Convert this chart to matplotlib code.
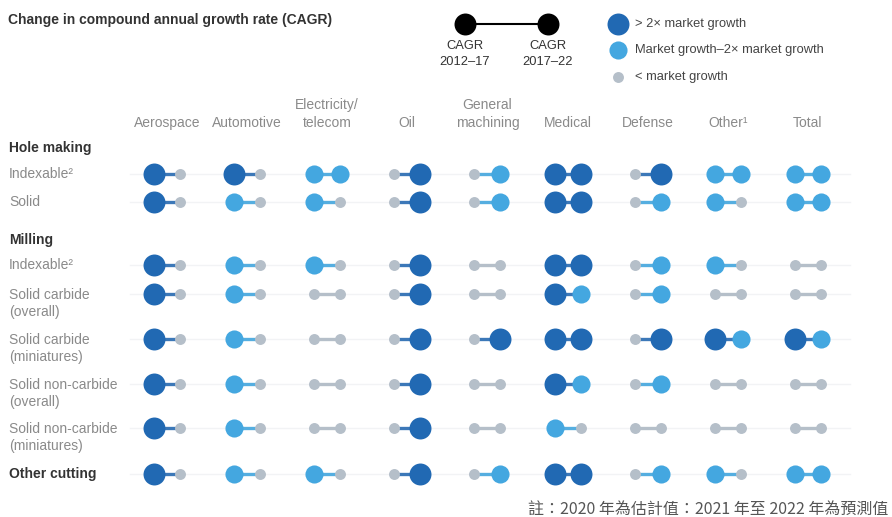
import matplotlib
matplotlib.use("Agg")
import matplotlib.pyplot as plt

plt.rcParams['font.family'] = ['Liberation Sans', 'DejaVu Sans']

# ---------------- data ----------------
industries = ["Aerospace", "Automotive", "Electricity/\ntelecom", "Oil",
              "General\nmachining", "Medical", "Defense", "Other\u00b9", "Total"]
row_labels = ["Indexable\u00b2", "Solid", "Indexable\u00b2", "Solid carbide\n(overall)",
              "Solid carbide\n(miniatures)", "Solid non-carbide\n(overall)",
              "Solid non-carbide\n(miniatures)", "Other cutting"]
section_labels = ["Hole making", "Milling"]
# growth class: 0 = < market growth, 1 = market growth-2x, 2 = > 2x market growth
cagr_2012_17 = [
    [2, 2, 1, 0, 0, 2, 0, 1, 1],
    [2, 1, 1, 0, 0, 2, 0, 1, 1],
    [2, 1, 1, 0, 0, 2, 0, 1, 0],
    [2, 1, 0, 0, 0, 2, 0, 0, 0],
    [2, 1, 0, 0, 0, 2, 0, 2, 2],
    [2, 1, 0, 0, 0, 2, 0, 0, 0],
    [2, 1, 0, 0, 0, 1, 0, 0, 0],
    [2, 1, 1, 0, 0, 2, 0, 1, 1],
]
cagr_2017_22 = [
    [0, 0, 1, 2, 1, 2, 2, 1, 1],
    [0, 0, 0, 2, 1, 2, 1, 0, 1],
    [0, 0, 0, 2, 0, 2, 1, 0, 0],
    [0, 0, 0, 2, 0, 1, 1, 0, 0],
    [0, 0, 0, 2, 2, 2, 2, 1, 1],
    [0, 0, 0, 2, 0, 1, 1, 0, 0],
    [0, 0, 0, 2, 0, 0, 0, 0, 0],
    [0, 0, 0, 2, 1, 2, 1, 0, 1],
]
legend_labels = ["> 2\u00d7 market growth", "Market growth\u20132\u00d7 market growth", "< market growth"]
period_labels = ["CAGR\n2012\u201317", "CAGR\n2017\u201322"]
title = "Change in compound annual growth rate (CAGR)"
footnote = "註：2020 年為估計值：2021 年至 2022 年為預測值"

# ---------------- style / layout ----------------
colors = {0: "#b5bfc9", 1: "#44a7e0", 2: "#2169b3"}
sizes = {0: 62, 1: 170, 2: 250}
line_colors = {0: "#b5bfc9", 1: "#55aee0", 2: "#3c78b8"}

W, H = 892, 517
fig = plt.figure(figsize=(W / 100, H / 100), dpi=100)
ax = fig.add_axes([0, 0, 1, 1])
ax.set_xlim(0, W)
ax.set_ylim(H, 0)
ax.axis("off")

col_x0, col_dx = 167, 80.1
half = 13
row_y = [174, 202, 265, 294, 339, 384, 428, 474]
section_y = [148, 240]

# faint row guides
for y in row_y:
    ax.plot([130, 850], [y, y], color="#f2f3f5", lw=1.0, zorder=0)

# column labels
for i, name in enumerate(industries):
    ax.text(col_x0 + i * col_dx, 130, name, ha="center", va="bottom",
            fontsize=10, color="#8a8a8a", linespacing=1.4)

# section headers
for lab, y in zip(section_labels, section_y):
    ax.text(9, y, lab, ha="left", va="center", fontsize=10,
            fontweight="bold", color="#333333")

# row labels
for r, lab in enumerate(row_labels):
    y = row_y[r]
    if "\n" in lab:
        ax.text(9, y - 6, lab, ha="left", va="top", fontsize=10,
                color="#8a8a8a", linespacing=1.3)
    elif lab == "Other cutting":
        ax.text(9, y, lab, ha="left", va="center", fontsize=10,
                fontweight="bold", color="#333333")
    else:
        ax.text(9, y, lab, ha="left", va="center", fontsize=10, color="#8a8a8a")

# dumbbells
for r in range(len(row_y)):
    y = row_y[r]
    for i in range(len(industries)):
        a, b = cagr_2012_17[r][i], cagr_2017_22[r][i]
        cx = col_x0 + i * col_dx
        xl, xr = cx - half, cx + half
        lc = line_colors[max(a, b)]
        ax.plot([xl, xr], [y, y], color=lc, lw=2.4, zorder=1, solid_capstyle="butt")
        ax.scatter([xl], [y], s=sizes[a], color=colors[a], zorder=2, linewidths=0)
        ax.scatter([xr], [y], s=sizes[b], color=colors[b], zorder=2, linewidths=0)

# title
ax.text(8, 20, title, ha="left", va="center", fontsize=10,
        fontweight="bold", color="#333333")

# period legend
lx = [465, 548]
ax.plot(lx, [24, 24], color="black", lw=1.5, zorder=1)
ax.scatter(lx, [24, 24], s=250, color="black", zorder=2, linewidths=0)
for x, lab in zip(lx, period_labels):
    ax.text(x, 40, lab, ha="center", va="top", fontsize=9.3, color="#333333",
            linespacing=1.4)

# colour legend
leg_y = [24, 50, 77]
for k, (cls, lab) in enumerate(zip([2, 1, 0], legend_labels)):
    ax.scatter([618], [leg_y[k]], s=sizes[cls], color=colors[cls], linewidths=0)
    ax.text(635, leg_y[k], lab, ha="left", va="center", fontsize=9.3, color="#444444")

# footnote
ax.text(888, 510, footnote, ha="right", va="center", fontsize=11.5,
        color="#555555", family=["Noto Sans CJK TC", "DejaVu Sans"])

fig.savefig("out.png", dpi=100, facecolor="white")
